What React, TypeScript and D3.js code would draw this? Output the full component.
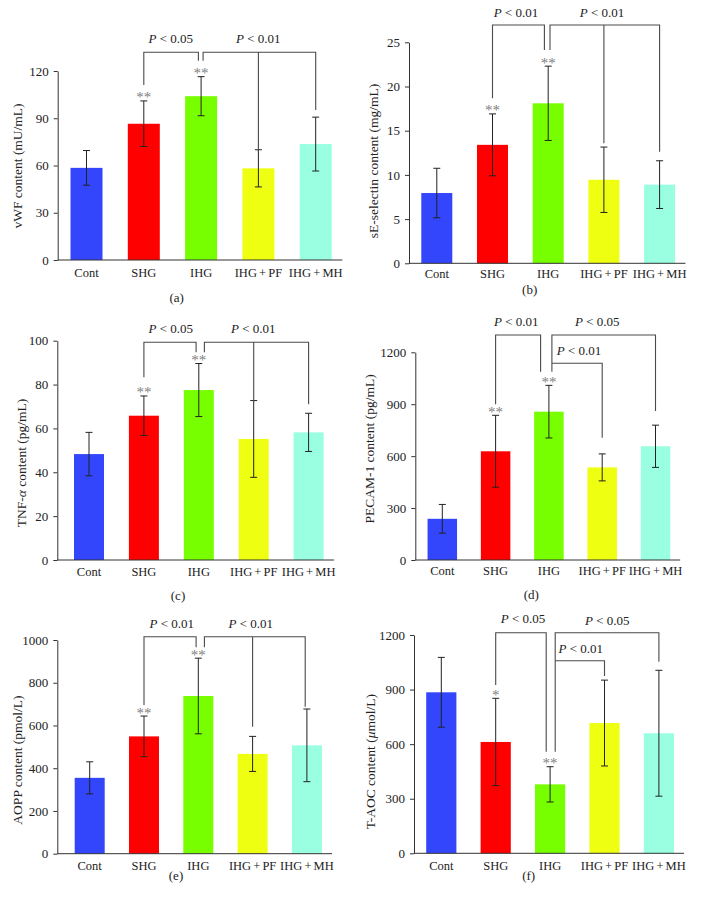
import React, { useEffect, useRef } from "react";
import * as d3 from "d3";

// ---------- data ----------
const categories = ["Cont", "SHG", "IHG", "IHG + PF", "IHG + MH"];
const barColors = ["#3346fb", "#ff0000", "#77ff00", "#eeff11", "#99ffe0"];

const vwfMean = [58.5, 86.5, 104, 58.2, 73.6];
const vwfErr = [11, 14.5, 12.4, 11.8, 17.1];
const vwfTicks = [0, 30, 60, 90, 120];
const vwfStars = ["", "**", "**", "", ""];

const selectinMean = [7.95, 13.4, 18.1, 9.45, 8.9];
const selectinErr = [2.8, 3.5, 4.2, 3.7, 2.7];
const selectinTicks = [0, 5, 10, 15, 20, 25];
const selectinStars = ["", "**", "**", "", ""];

const tnfMean = [48.3, 65.8, 77.5, 55.2, 58.2];
const tnfErr = [9.9, 9, 12.1, 17.5, 8.7];
const tnfTicks = [0, 20, 40, 60, 80, 100];
const tnfStars = ["", "**", "**", "", ""];

const pecamMean = [238, 628, 857, 535, 657];
const pecamErr = [83, 208, 152, 78, 122];
const pecamTicks = [0, 300, 600, 900, 1200];
const pecamStars = ["", "**", "**", "", ""];

const aoppMean = [355, 549, 738, 467, 507];
const aoppErr = [75, 95, 177, 82, 170];
const aoppTicks = [0, 200, 400, 600, 800, 1000];
const aoppStars = ["", "**", "**", "", ""];

const taocMean = [885, 612, 379, 716, 660];
const taocErr = [192, 240, 97, 236, 346];
const taocTicks = [0, 300, 600, 900, 1200];
const taocStars = ["", "*", "**", "", ""];

const panelTags = ["(a)", "(b)", "(c)", "(d)", "(e)", "(f)"];

// ---------- layout ----------
type Br = {
  from: [number, number, number];
  to: [number, number, number];
  top: number;
  drops?: [number, number, number][];
  label: string;
  lx: number;
  ly: number;
};

const panels = [
  {
    mean: vwfMean, err: vwfErr, ticks: vwfTicks, stars: vwfStars, tag: panelTags[0],
    ylabel: [["vWF content (mU/mL)", false]],
    axisX: 57.7, yBottom: 260, yTop: 71, c0: 86.5, step: 57.3, bw: 32,
    ylx: 17.5, yly: 166, catY: 277, tagX: 176.7, tagY: 302,
    brackets: [
      { from: [1, 0, 85], to: [2, -2.7, 60.7], top: 52.3, label: "0.05", lx: 170.7, ly: 43 },
      { from: [2, 2, 60.7], to: [4, 0, 110], top: 52.3, drops: [[3, 0, 151.7]], label: "0.01", lx: 258.3, ly: 43 },
    ] as Br[],
  },
  {
    mean: selectinMean, err: selectinErr, ticks: selectinTicks, stars: selectinStars, tag: panelTags[1],
    ylabel: [["sE-selectin content (mg/mL)", false]],
    axisX: 409, yBottom: 263.3, yTop: 42.3, c0: 436.8, step: 55.7, bw: 31,
    ylx: 373, yly: 161, catY: 277.5, tagX: 529.7, tagY: 294,
    brackets: [
      { from: [1, 0, 98.3], to: [2, -3.8, 50], top: 25, label: "0.01", lx: 516, ly: 16.7 },
      { from: [2, 1.8, 50], to: [4, 0, 151.7], top: 25, drops: [[3, 0, 143.3]], label: "0.01", lx: 602, ly: 16.7 },
    ] as Br[],
  },
  {
    mean: tnfMean, err: tnfErr, ticks: tnfTicks, stars: tnfStars, tag: panelTags[2],
    ylabel: [["TNF-", false], ["α", true], [" content (pg/mL)", false]],
    axisX: 57.3, yBottom: 560, yTop: 340.7, c0: 89, step: 54.9, bw: 30,
    ylx: 21.7, yly: 463, catY: 575.5, tagX: 178, tagY: 600,
    brackets: [
      { from: [1, 0, 377.3], to: [2, -2.7, 352.3], top: 342.3, label: "0.05", lx: 170.7, ly: 333.3 },
      { from: [2, 5.6, 352.3], to: [4, 0, 404.3], top: 342.3, drops: [[3, 0, 401.7]], label: "0.01", lx: 253.3, ly: 333.3 },
    ] as Br[],
  },
  {
    mean: pecamMean, err: pecamErr, ticks: pecamTicks, stars: pecamStars, tag: panelTags[3],
    ylabel: [["PECAM-1 content (pg/mL)", false]],
    axisX: 415.3, yBottom: 560, yTop: 352.3, c0: 442.3, step: 53.3, bw: 29.5,
    ylx: 369, yly: 449, catY: 575, tagX: 531.3, tagY: 599,
    brackets: [
      { from: [1, 0, 404.3], to: [2, -8.3, 371.7], top: 335, label: "0.01", lx: 516.3, ly: 325.7 },
      { from: [2, 3, 371.7], to: [4, 0, 411], top: 335, label: "0.05", lx: 597.3, ly: 325.7 },
      { from: [2, 3, 363.3], to: [3, 0, 437.7], top: 363.3, label: "0.01", lx: 579, ly: 355 },
    ] as Br[],
  },
  {
    mean: aoppMean, err: aoppErr, ticks: aoppTicks, stars: aoppStars, tag: panelTags[4],
    ylabel: [["AOPP content (pmol/L)", false]],
    axisX: 57.3, yBottom: 853.7, yTop: 640, c0: 89.7, step: 54.3, bw: 30,
    ylx: 17.5, yly: 760, catY: 870, tagX: 176, tagY: 880,
    brackets: [
      { from: [1, 0, 705], to: [2, -2.2, 647.3], top: 636.7, label: "0.01", lx: 171.7, ly: 628.3 },
      { from: [2, 6.1, 647.3], to: [4, -1.7, 706.7], top: 636.7, drops: [[3, 0, 726.7]], label: "0.01", lx: 250.7, ly: 628.3 },
    ] as Br[],
  },
  {
    mean: taocMean, err: taocErr, ticks: taocTicks, stars: taocStars, tag: panelTags[5],
    ylabel: [["T-AOC content (", false], ["μ", true], ["mol/L)", false]],
    axisX: 414, yBottom: 853.3, yTop: 635, c0: 441.3, step: 54.4, bw: 30.2,
    ylx: 370.5, yly: 761.7, catY: 870, tagX: 528.7, tagY: 880,
    brackets: [
      { from: [1, 0, 685], to: [2, -3.9, 751.7], top: 632.7, label: "0.05", lx: 523, ly: 622.7 },
      { from: [2, 5.1, 751.7], to: [4, 0, 661.7], top: 632.7, label: "0.05", lx: 607.3, ly: 625 },
      { from: [2, 5.1, 660.7], to: [3, 0, 676], top: 660.7, label: "0.01", lx: 580.7, ly: 653.3 },
    ] as Br[],
  },
];

const FONT = "'Liberation Serif', 'Times New Roman', serif";
const AXIS = "#333";
const BRACKET = "#4a4a4a";

function Panel({ p }: { p: (typeof panels)[number] }) {
  const axisRef = useRef<SVGGElement>(null);
  const n = categories.length;
  const x0 = p.c0 - p.step / 2;
  const pad = 1 - p.bw / p.step;
  const x = d3
    .scaleBand<string>()
    .domain(categories)
    .range([x0, x0 + p.step * n])
    .paddingInner(pad)
    .paddingOuter(pad / 2);
  const maxV = p.ticks[p.ticks.length - 1];
  const y = d3.scaleLinear().domain([0, maxV]).range([p.yBottom, p.yTop]);
  const cx = (i: number) => (x(categories[i]) as number) + x.bandwidth() / 2;

  useEffect(() => {
    if (!axisRef.current) return;
    const g = d3.select(axisRef.current);
    g.selectAll("*").remove();
    g.call(d3.axisLeft(y).tickValues(p.ticks).tickSize(4).tickSizeOuter(0).tickPadding(5).tickFormat(d3.format("d")));
    g.select(".domain").attr("stroke", AXIS);
    g.selectAll(".tick line").attr("stroke", AXIS);
    g.selectAll(".tick text")
      .attr("fill", "#222")
      .style("font-family", FONT)
      .style("font-size", "13px");
  });

  const xEnd = x0 + p.step * n - 2;
  const bracketPath = (b: Br) => {
    const xa = cx(b.from[0]) + b.from[1];
    const xb = cx(b.to[0]) + b.to[1];
    let d = `M${xa},${b.from[2]}V${b.top}H${xb}V${b.to[2]}`;
    (b.drops || []).forEach((dr) => {
      const xd = cx(dr[0]) + dr[1];
      d += `M${xd},${b.top}V${dr[2]}`;
    });
    return d;
  };

  return (
    <g>
      {/* bars */}
      {categories.map((c, i) => (
        <rect
          key={c}
          x={x(c)}
          y={y(p.mean[i])}
          width={x.bandwidth()}
          height={p.yBottom - y(p.mean[i])}
          fill={barColors[i]}
        />
      ))}
      {/* error bars */}
      {categories.map((c, i) => {
        const xc = cx(i);
        const hi = y(p.mean[i] + p.err[i]);
        const lo = y(p.mean[i] - p.err[i]);
        return (
          <g key={"e" + c} stroke="#222" strokeWidth={1}>
            <line x1={xc} x2={xc} y1={hi} y2={lo} />
            <line x1={xc - 3.5} x2={xc + 3.5} y1={hi} y2={hi} />
            <line x1={xc - 3.5} x2={xc + 3.5} y1={lo} y2={lo} />
          </g>
        );
      })}
      {/* stars */}
      {categories.map((c, i) =>
        p.stars[i] ? (
          <text
            key={"s" + c}
            x={cx(i)}
            y={y(p.mean[i] + p.err[i]) + 1.5}
            textAnchor="middle"
            fill="#808080"
            style={{ fontFamily: FONT, fontSize: 15 }}
          >
            {p.stars[i]}
          </text>
        ) : null
      )}
      {/* axes */}
      <g ref={axisRef} transform={`translate(${p.axisX},0)`} />
      <line x1={p.axisX} x2={xEnd} y1={p.yBottom} y2={p.yBottom} stroke={AXIS} strokeWidth={1} />
      {categories.map((c, i) => (
        <text
          key={"c" + c}
          x={cx(i)}
          y={p.catY}
          textAnchor="middle"
          fill="#222"
          wordSpacing={-1}
          style={{ fontFamily: FONT, fontSize: 12.5 }}
        >
          {c}
        </text>
      ))}
      {/* y label */}
      <text
        transform={`translate(${p.ylx + 4.5},${p.yly}) rotate(-90)`}
        textAnchor="middle"
        fill="#222"
        style={{ fontFamily: FONT, fontSize: 13.5 }}
      >
        {p.ylabel.map((s, k) => (
          <tspan key={k} fontStyle={s[1] ? "italic" : "normal"}>
            {s[0] as string}
          </tspan>
        ))}
      </text>
      {/* brackets */}
      {p.brackets.map((b, k) => (
        <g key={"b" + k}>
          <path d={bracketPath(b)} fill="none" stroke={BRACKET} strokeWidth={1.1} />
          <text
            x={b.lx}
            y={b.ly}
            textAnchor="middle"
            fill="#222"
            style={{ fontFamily: FONT, fontSize: 13 }}
          >
            <tspan fontStyle="italic">P</tspan>
            <tspan>{" < " + b.label}</tspan>
          </text>
        </g>
      ))}
      {/* panel tag */}
      <text
        x={p.tagX}
        y={p.tagY}
        textAnchor="middle"
        fill="#222"
        style={{ fontFamily: FONT, fontSize: 13 }}
      >
        {p.tag}
      </text>
    </g>
  );
}

export default function App() {
  return (
    <svg
      width={707}
      height={916}
      viewBox="0 0 707 916"
      style={{ position: "absolute", left: 0, top: 0, background: "#fff", display: "block" }}
    >
      <rect x={0} y={0} width={707} height={916} fill="#fff" />
      {panels.map((p, i) => (
        <Panel key={i} p={p} />
      ))}
    </svg>
  );
}
